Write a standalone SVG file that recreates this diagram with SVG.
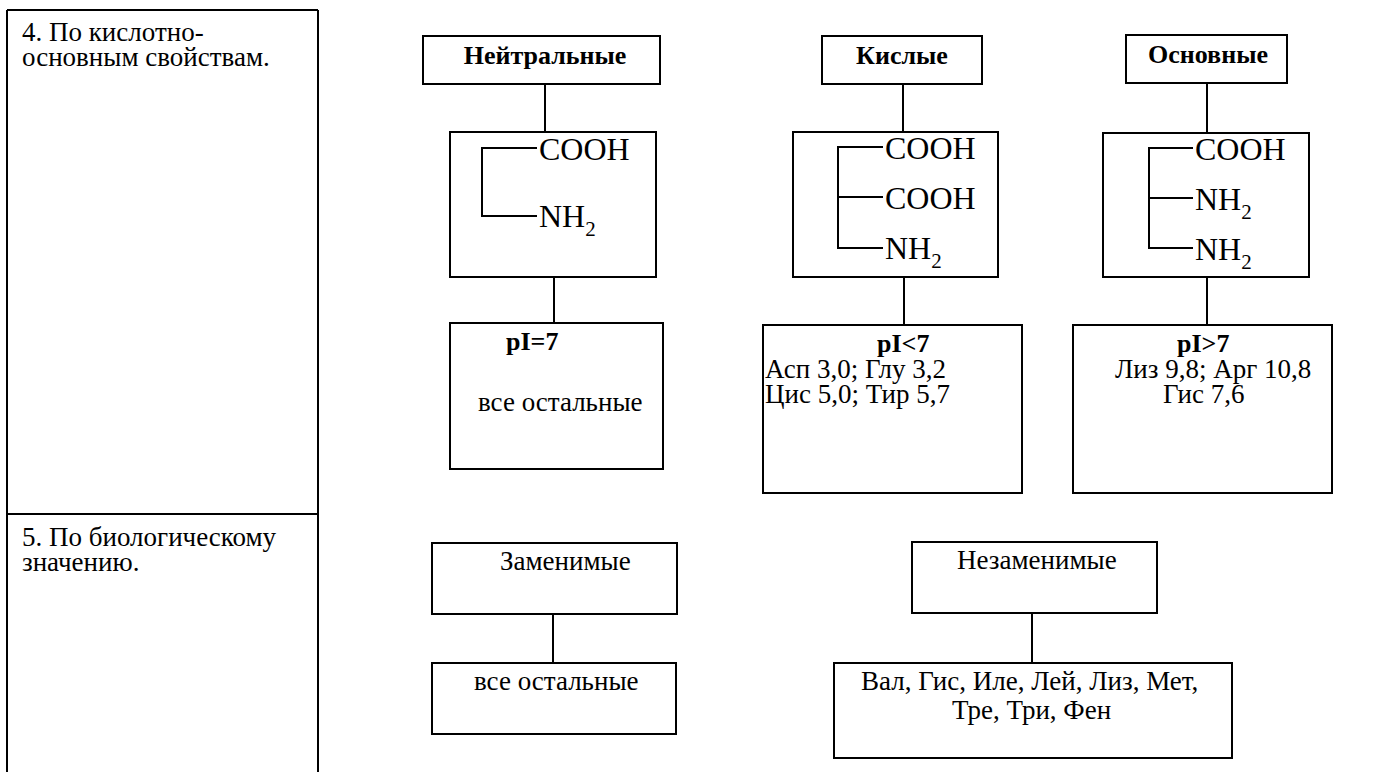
<svg xmlns="http://www.w3.org/2000/svg" width="1397" height="772" viewBox="0 0 1397 772">
<style>
.b{fill:#fff;stroke:#000;stroke-width:2}
.l{fill:none;stroke:#000;stroke-width:2}
text{fill:#000}
.t{font-size:27px}
.h{font-size:26px;font-weight:bold}
.c{font-size:32px}
.s{font-size:21px}
</style>
<rect width="1397" height="772" fill="#fff"/>
<g id="table" font-family="'Liberation Serif', 'DejaVu Serif', serif">
<path class="l" d="M7,10 H318 M7,10 V772 M318,10 V772 M7,514 H318"/>
<text class="t" x="22" y="41">4. По кислотно-</text>
<text class="t" x="22" y="66">основным свойствам.</text>
<text class="t" x="22" y="546">5. По биологическому</text>
<text class="t" x="22" y="571">значению.</text>
</g>
<g id="connectors">
<path class="l" d="M545,84 V132 M554,277 V323 M903,84 V132 M904,277 V325 M1207,83 V133 M1207,277 V325 M553,614 V663 M1032,613 V663"/>
</g>
<g font-family="'Liberation Serif', 'DejaVu Serif', serif">
<g id="neutral-header"><rect class="b" x="423" y="36" width="237" height="48"/><text class="h" x="545" y="64" text-anchor="middle">Нейтральные</text></g>
<g id="acid-header"><rect class="b" x="822" y="36" width="160" height="48"/><text class="h" x="902" y="64" text-anchor="middle">Кислые</text></g>
<g id="basic-header"><rect class="b" x="1126" y="35" width="161" height="48"/><text class="h" x="1208" y="63" text-anchor="middle">Основные</text></g>
<g id="neutral-structure"><rect class="b" x="450" y="132" width="206" height="145"/>
<path class="l" d="M537,148 H482 V216 H537"/>
<text class="c" x="539" y="160">COOH</text>
<text class="c" x="539" y="227">NH<tspan class="s" dy="9">2</tspan></text></g>
<g id="acid-structure"><rect class="b" x="793" y="132" width="205" height="145"/>
<path class="l" d="M883,147 H838 V248 H883 M838,197 H883"/>
<text class="c" x="885" y="159">COOH</text>
<text class="c" x="885" y="209">COOH</text>
<text class="c" x="885" y="259">NH<tspan class="s" dy="9">2</tspan></text></g>
<g id="basic-structure"><rect class="b" x="1103" y="133" width="206" height="144"/>
<path class="l" d="M1193,148 H1149 V248 H1193 M1149,198 H1193"/>
<text class="c" x="1195" y="160">COOH</text>
<text class="c" x="1195" y="210">NH<tspan class="s" dy="9">2</tspan></text>
<text class="c" x="1195" y="260">NH<tspan class="s" dy="9">2</tspan></text></g>
<g id="neutral-pi"><rect class="b" x="450" y="323" width="213" height="146"/>
<text class="h" x="506" y="350">pI=7</text>
<text class="t" x="478" y="411">все остальные</text></g>
<g id="acid-pi"><rect class="b" x="763" y="325" width="259" height="168"/>
<text class="h" x="877" y="352">pI&lt;7</text>
<text class="t" x="765" y="378">Асп 3,0; Глу 3,2</text>
<text class="t" x="765" y="403">Цис 5,0; Тир 5,7</text></g>
<g id="basic-pi"><rect class="b" x="1073" y="325" width="259" height="168"/>
<text class="h" x="1177" y="352">pI&gt;7</text>
<text class="t" x="1115" y="378">Лиз 9,8; Арг 10,8</text>
<text class="t" x="1163" y="403">Гис 7,6</text></g>
<g id="replaceable"><rect class="b" x="432" y="543" width="245" height="71"/>
<text class="t" x="500" y="570">Заменимые</text></g>
<g id="replaceable-list"><rect class="b" x="432" y="663" width="244" height="71"/>
<text class="t" x="474" y="690">все остальные</text></g>
<g id="essential"><rect class="b" x="912" y="542" width="245" height="71"/>
<text class="t" x="957" y="569">Незаменимые</text></g>
<g id="essential-list"><rect class="b" x="834" y="663" width="398" height="95"/>
<text class="t" x="861" y="690">Вал, Гис, Иле, Лей, Лиз, Мет,</text>
<text class="t" x="952" y="719">Тре, Три, Фен</text></g>
</g>
</svg>
